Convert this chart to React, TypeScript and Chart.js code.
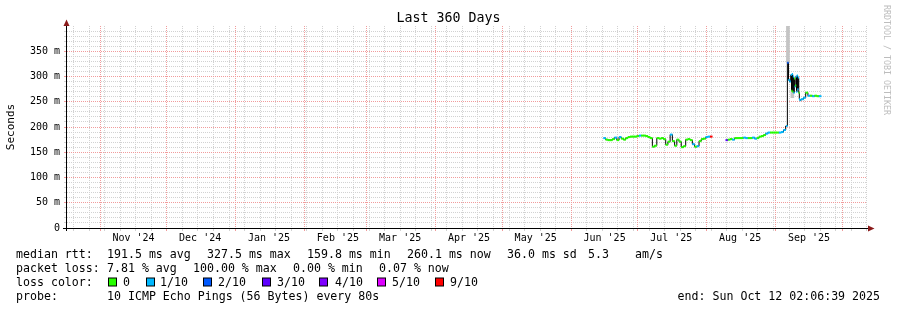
import React, { useEffect, useRef } from 'react';
import { Chart, registerables } from 'chart.js';

Chart.register(...registerables);

// ---------- data ----------
const END_TIME = '2025-10-12T02:06:39Z';
const SPAN_DAYS = 360;

const monthStarts = [
  '2024-11-01', '2024-12-01', '2025-01-01', '2025-02-01', '2025-03-01', '2025-04-01',
  '2025-05-01', '2025-06-01', '2025-07-01', '2025-08-01', '2025-09-01', '2025-10-01',
];
const monthLabels = [
  "Nov '24", "Dec '24", "Jan '25", "Feb '25", "Mar '25", "Apr '25",
  "May '25", "Jun '25", "Jul '25", "Aug '25", "Sep '25",
];
const firstWeekStart = '2024-10-20';

const yMajorValues = [0, 50, 100, 150, 200, 250, 300, 350];
const yTickLabels = ['0', '50 m', '100 m', '150 m', '200 m', '250 m', '300 m', '350 m'];

const sampleTimes = [
  '2025-06-16', '2025-06-17', '2025-06-18', '2025-06-19', '2025-06-20', '2025-06-21', '2025-06-22',
  '2025-06-23', '2025-06-24', '2025-06-25', '2025-06-26', '2025-06-27', '2025-06-28', '2025-06-29',
  '2025-06-30', '2025-07-01', '2025-07-02', '2025-07-03', '2025-07-04', '2025-07-05', '2025-07-06',
  '2025-07-07', '2025-07-08', '2025-07-09', '2025-07-10', '2025-07-11', '2025-07-12', '2025-07-13',
  '2025-07-14', '2025-07-15', '2025-07-16', '2025-07-17', '2025-07-18', '2025-07-19', '2025-07-20',
  '2025-07-21', '2025-07-22', '2025-07-23', '2025-07-24', '2025-07-25', '2025-07-26', '2025-07-27',
  '2025-07-28', '2025-07-29', '2025-07-30', '2025-07-31', '2025-08-01', '2025-08-02', '2025-08-03',
  '2025-08-06',
  '2025-08-10', '2025-08-11', '2025-08-12', '2025-08-13', '2025-08-14', '2025-08-15', '2025-08-16',
  '2025-08-17', '2025-08-18', '2025-08-19', '2025-08-20', '2025-08-21', '2025-08-22', '2025-08-23',
  '2025-08-24', '2025-08-25', '2025-08-26', '2025-08-27', '2025-08-28', '2025-08-29', '2025-08-30',
  '2025-08-31', '2025-09-01', '2025-09-02', '2025-09-03', '2025-09-04', '2025-09-05', '2025-09-06',
  '2025-09-06T12:00', '2025-09-07T00:00', '2025-09-07T12:00', '2025-09-08T00:00', '2025-09-08T06:00',
  '2025-09-08T12:00', '2025-09-08T18:00', '2025-09-09T00:00', '2025-09-09T06:00', '2025-09-09T12:00',
  '2025-09-09T18:00', '2025-09-10T00:00', '2025-09-10T06:00', '2025-09-10T12:00', '2025-09-10T18:00',
  '2025-09-11T00:00', '2025-09-11T06:00', '2025-09-11T12:00', '2025-09-11T18:00',
  '2025-09-12', '2025-09-13', '2025-09-14', '2025-09-15', '2025-09-16', '2025-09-17', '2025-09-18',
  '2025-09-19', '2025-09-20', '2025-09-21',
];
const medianMs: (number | null)[] = [
  178, 175, 174, 174, 176, 179, 174,
  180, 177, 175, 178, 180, 181, 181,
  181, 182, 183, 183, 183, 182, 180,
  178, 161, 163, 178, 177, 178, 176,
  165, 171, 185, 172, 163, 175, 171,
  160, 162, 175, 176, 174, 166, 161,
  162, 172, 176, 177, 180, 181, 181,
  null,
  174, 175, 176, 175, 178, 178, 178,
  178, 179, 178, 178, 178, 179, 177,
  178, 181, 182, 184, 187, 189, 189,
  189, 189, 189, 189, 190, 194, 202,
  327, 293, 290, 303, 272,
  305, 270, 300, 268, 296,
  280, 282, 300, 270, 302,
  275, 298, 268, 255,
  253, 255, 258, 268, 262, 262, 261,
  262, 261, 261,
];
const lossTenths: (number | null)[] = [
  1, 0, 0, 0, 0, 1, 0,
  1, 0, 0, 0, 0, 0, 0,
  0, 0, 1, 0, 0, 0, 0,
  0, 0, 0, 0, 0, 0, 0,
  0, 0, 1, 0, 0, 0, 0,
  0, 0, 0, 0, 0, 1, 0,
  1, 0, 0, 0, 1, 1, 9,
  null,
  3, 0, 0, 1, 0, 0, 0,
  0, 1, 1, 0, 0, 1, 1,
  0, 0, 0, 0, 1, 1, 0,
  0, 0, 0, 1, 1, 1, 1,
  2, 1, 1, 1, 0,
  1, 0, 1, 1, 0,
  1, 0, 1, 1, 1,
  1, 1, 0, 1,
  1, 1, 1, 0, 1, 0, 1,
  0, 0, 1,
];

const smokeTimes = ['2025-09-06T12:00', '2025-09-08T12:00'];
const smokeLo = [327, 258];
const smokeHi = [400, 272];

const lossLevels = [0, 1, 2, 3, 4, 5, 9];
const lossColors = ['#26ff00', '#00b8ff', '#0059ff', '#5e00ff', '#7e00ff', '#dd00ff', '#ff0000'];
const lossLegendLabels = ['0', '1/10', '2/10', '3/10', '4/10', '5/10', '9/10'];

const rttLegend = ['191.5 ms avg', '327.5 ms max', '159.8 ms min', '260.1 ms now', '36.0 ms sd', '5.3', 'am/s'];
const lossLegend = ['7.81 % avg', '100.00 % max', '0.00 % min', '0.07 % now'];
const probeText = '10 ICMP Echo Pings (56 Bytes) every 80s';
const endText = 'end: Sun Oct 12 02:06:39 2025';

// ---------- helpers ----------
const DAY = 86400000;
const toMs = (s: string) =>
  Date.parse(s.length === 10 ? s + 'T00:00:00Z' : s.endsWith('Z') ? s : s + ':00Z');
const endMs = toMs(END_TIME);
const startMs = endMs - SPAN_DAYS * DAY;
const lossColor = (l: number | null) => {
  if (l === null || l === undefined) return 'rgba(0,0,0,0)';
  const i = lossLevels.indexOf(l);
  return lossColors[i >= 0 ? i : lossColors.length - 1];
};

const MAJOR = '#f19c9c';
const MINOR = '#d2d2d2';
const MONO = '"DejaVu Sans Mono", monospace';

const sampleMs = sampleTimes.map(toMs);
const lineData = sampleMs.map((x, i) => ({ x, y: medianMs[i] }));
const smokeData = smokeTimes.map((t, i) => ({ x: toMs(t), y: [smokeLo[i], smokeHi[i]] }));

// grid positions
const weekTicks: number[] = [];
for (let t = toMs(firstWeekStart); t < endMs; t += 7 * DAY) weekTicks.push(t);
const monthTicks = monthStarts.map(toMs).filter((t) => t > startMs && t < endMs);
const labelTicks = monthLabels.map((_, i) => toMs(monthStarts[i]) + 15 * DAY);
const yGridValues: number[] = [];
for (let v = 10; v < 400; v += 10) yGridValues.push(v);

const gridPlugin = {
  id: 'rrdgrid',
  beforeDatasetsDraw(chart: any) {
    const ctx: CanvasRenderingContext2D = chart.ctx;
    const { left, right, top, bottom } = chart.chartArea;
    const xs = chart.scales.x;
    const ys = chart.scales.y;
    ctx.save();
    ctx.lineWidth = 1;
    const vline = (v: number, color: string) => {
      const px = Math.round(xs.getPixelForValue(v) - 0.5) + 0.5;
      ctx.strokeStyle = color;
      ctx.setLineDash([1, 1]);
      ctx.beginPath();
      ctx.moveTo(px, top);
      ctx.lineTo(px, bottom);
      ctx.stroke();
      ctx.setLineDash([]);
      ctx.beginPath();
      ctx.moveTo(px, bottom);
      ctx.lineTo(px, bottom + 3);
      ctx.stroke();
    };
    const hline = (v: number, color: string) => {
      const py = Math.round(ys.getPixelForValue(v) - 0.5) + 0.5;
      ctx.strokeStyle = color;
      ctx.setLineDash([1, 1]);
      ctx.beginPath();
      ctx.moveTo(left, py);
      ctx.lineTo(right, py);
      ctx.stroke();
      ctx.setLineDash([]);
      ctx.beginPath();
      ctx.moveTo(left - 3, py);
      ctx.lineTo(left, py);
      ctx.stroke();
    };
    weekTicks.filter((t) => !monthTicks.includes(t)).forEach((t) => vline(t, MINOR));
    yGridValues.filter((v) => v % 50 !== 0).forEach((v) => hline(v, MINOR));
    monthTicks.forEach((t) => vline(t, MAJOR));
    yGridValues.filter((v) => v % 50 === 0).forEach((v) => hline(v, MAJOR));
    ctx.restore();
  },
};

const decorPlugin = {
  id: 'decor',
  afterDraw(chart: any) {
    const ctx: CanvasRenderingContext2D = chart.ctx;
    const { left, right, top, bottom } = chart.chartArea;
    ctx.save();
    // axes
    ctx.strokeStyle = '#000';
    ctx.lineWidth = 1;
    ctx.beginPath();
    ctx.moveTo(left - 4, bottom + 0.5);
    ctx.lineTo(right + 2, bottom + 0.5);
    ctx.moveTo(left - 0.5, bottom + 3);
    ctx.lineTo(left - 0.5, top - 2);
    ctx.stroke();
    ctx.fillStyle = '#8a1a1a';
    ctx.beginPath();
    ctx.moveTo(left - 0.5, top - 6.5);
    ctx.lineTo(left - 3.5, top);
    ctx.lineTo(left + 2.5, top);
    ctx.closePath();
    ctx.fill();
    ctx.beginPath();
    ctx.moveTo(right + 7.5, bottom + 0.5);
    ctx.lineTo(right + 1, bottom - 2.5);
    ctx.lineTo(right + 1, bottom + 3.5);
    ctx.closePath();
    ctx.fill();

    // title
    ctx.fillStyle = '#000';
    ctx.textBaseline = 'middle';
    ctx.textAlign = 'center';
    ctx.font = `13.3px ${MONO}`;
    ctx.fillText('Last 360 Days', 448.5, 19);

    // y axis title
    ctx.save();
    ctx.translate(11, 127);
    ctx.rotate(-Math.PI / 2);
    ctx.font = `11px ${MONO}`;
    ctx.fillText('Seconds', 0, 0);
    ctx.restore();

    // watermark
    ctx.save();
    ctx.translate(886, 5);
    ctx.rotate(Math.PI / 2);
    ctx.textAlign = 'left';
    ctx.fillStyle = '#bdbdbd';
    ctx.font = `8.3px ${MONO}`;
    ctx.fillText('RRDTOOL / TOBI OETIKER', 0, 0);
    ctx.restore();

    // legend
    ctx.font = `11.6px ${MONO}`;
    ctx.textAlign = 'left';
    ctx.fillStyle = '#000';
    const L1 = 254.5, L2 = 268.5, L3 = 282.5, L4 = 296.5;
    ctx.fillText('median rtt:', 16, L1);
    const rttX = [107, 207, 307, 407, 507, 588, 635];
    rttLegend.forEach((s, i) => ctx.fillText(s, rttX[i], L1));
    ctx.fillText('packet loss:', 16, L2);
    const lossX = [107, 193, 293, 379];
    lossLegend.forEach((s, i) => ctx.fillText(s, lossX[i], L2));
    ctx.fillText('loss color:', 16, L3);
    const boxX = [108, 146, 203, 262, 319, 377, 435];
    const labX = [123, 160, 218, 277, 335, 392, 450];
    lossLegendLabels.forEach((s, i) => {
      ctx.fillStyle = lossColors[i];
      ctx.fillRect(boxX[i] + 0.5, L3 - 4.5, 8, 8);
      ctx.strokeStyle = '#000';
      ctx.strokeRect(boxX[i] + 0.5, L3 - 4.5, 8, 8);
      ctx.fillStyle = '#000';
      ctx.fillText(s, labX[i], L3);
    });
    ctx.fillText('probe:', 16, L4);
    ctx.fillText(probeText, 107, L4);
    ctx.textAlign = 'right';
    ctx.fillText(endText, 880, L4);
    ctx.restore();
  },
};

const pointRadius = (c: any) => {
  const i = c.dataIndex;
  if (medianMs[i] === null) return 0;
  const xs = c.chart.scales.x;
  const px = xs.getPixelForValue(sampleMs[i]);
  const gaps: number[] = [];
  if (i > 0 && medianMs[i - 1] !== null) gaps.push(px - xs.getPixelForValue(sampleMs[i - 1]));
  if (i < sampleMs.length - 1 && medianMs[i + 1] !== null)
    gaps.push(xs.getPixelForValue(sampleMs[i + 1]) - px);
  const g = gaps.length ? Math.min(...gaps) : 2;
  return Math.max(0.6, g / 2 + 0.2);
};

export default function App() {
  const ref = useRef<HTMLCanvasElement>(null);
  useEffect(() => {
    document.body.style.margin = '0';
    const chart = new Chart(ref.current as HTMLCanvasElement, {
      type: 'line',
      data: {
        datasets: [
          {
            type: 'line',
            label: 'loss',
            data: lineData,
            showLine: false,
            pointStyle: 'line',
            pointRadius: pointRadius,
            pointBorderWidth: 2,
            pointBorderColor: (c: any) => lossColor(lossTenths[c.dataIndex]),
            pointBackgroundColor: 'rgba(0,0,0,0)',
            order: 0,
          } as any,
          {
            type: 'line',
            label: 'median rtt',
            data: lineData,
            stepped: 'middle',
            borderColor: '#000',
            borderWidth: 1,
            pointRadius: 0,
            spanGaps: false,
            fill: false,
            order: 1,
          } as any,
          {
            type: 'bar',
            label: 'smoke',
            data: smokeData,
            backgroundColor: '#c4c4c4',
            borderWidth: 0,
            barThickness: 3,
            grouped: false,
            order: 2,
          } as any,
        ],
      },
      options: {
        animation: false,
        responsive: false,
        devicePixelRatio: 1,
        events: [],
        layout: { padding: { left: 0, right: 30, top: 26, bottom: 0 } },
        plugins: { legend: { display: false }, tooltip: { enabled: false }, title: { display: false } },
        scales: {
          x: {
            type: 'linear',
            min: startMs,
            max: endMs,
            offset: false,
            afterBuildTicks: (s: any) => {
              s.ticks = labelTicks.map((v) => ({ value: v }));
            },
            afterFit: (s: any) => {
              s.height = 82;
            },
            ticks: {
              autoSkip: false,
              maxRotation: 0,
              minRotation: 0,
              padding: 4,
              color: '#000',
              font: { family: 'DejaVu Sans Mono', size: 10 },
              callback: (_v: any, i: number) => monthLabels[i],
            },
            grid: { display: true, drawOnChartArea: false, drawTicks: false },
            border: { display: false },
          },
          y: {
            type: 'linear',
            min: 0,
            max: 400,
            afterBuildTicks: (s: any) => {
              s.ticks = yMajorValues.map((v) => ({ value: v }));
            },
            afterFit: (s: any) => {
              s.width = 67;
            },
            ticks: {
              autoSkip: false,
              padding: 7,
              color: '#000',
              font: { family: 'DejaVu Sans Mono', size: 10 },
              callback: (_v: any, i: number) => yTickLabels[i],
            },
            grid: { display: true, drawOnChartArea: false, drawTicks: false },
            border: { display: false },
          },
        },
      } as any,
      plugins: [gridPlugin, decorPlugin],
    });
    return () => chart.destroy();
  }, []);
  return (
    <div style={{ position: 'absolute', left: 0, top: 0, width: 897, height: 310, background: '#fff' }}>
      <canvas ref={ref} width={897} height={310} style={{ display: 'block', width: 897, height: 310 }} />
    </div>
  );
}
